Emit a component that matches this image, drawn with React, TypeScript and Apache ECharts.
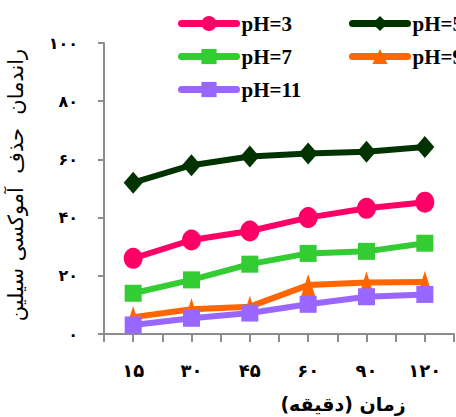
import React, { useEffect, useRef } from "react";
import * as echarts from "echarts";

const categories = ["۱۵", "۳۰", "۴۵", "۶۰", "۹۰", "۱۲۰"];
const yTickLabels: Record<number, string> = { 0: "۰", 20: "۲۰", 40: "۴۰", 60: "۶۰", 80: "۸۰", 100: "۱۰۰" };
const pH3 = [26, 32.3, 35.4, 40, 43.2, 45.3];
const pH5 = [52, 58, 61, 62, 62.6, 64.3];
const pH7 = [14, 18.6, 24, 27.7, 28.4, 31.2];
const pH9 = [5.8, 8.5, 9.4, 16.8, 17.7, 17.9];
const pH11 = [3.1, 5.4, 7.2, 10.2, 12.8, 13.6];

const seriesDefs = [
  { name: "pH=3", data: pH3, color: "#FF0066", symbol: "circle", size: [19, 21] },
  { name: "pH=5", data: pH5, color: "#013301", symbol: "diamond", size: [19, 22] },
  { name: "pH=7", data: pH7, color: "#33CC33", symbol: "rect", size: [17, 17] },
  { name: "pH=9", data: pH9, color: "#FF6600", symbol: "triangle", size: [14, 22] },
  { name: "pH=11", data: pH11, color: "#9966FF", symbol: "rect", size: [17, 17] },
];

const legendPos: Record<string, { left: number; top: number }> = {
  "pH=3": { left: 178, top: 13 },
  "pH=7": { left: 178, top: 46 },
  "pH=11": { left: 178, top: 79 },
  "pH=5": { left: 349, top: 13 },
  "pH=9": { left: 349, top: 46 },
};

export default function App() {
  const ref = useRef<HTMLDivElement>(null);
  useEffect(() => {
    if (!ref.current) return;
    const chart = echarts.init(ref.current, null, { renderer: "svg" });
    const axisColor = "#8c8c8c";
    const legendFont = { fontFamily: "Liberation Serif", fontWeight: "bold", fontSize: 21, color: "#000" };
    chart.setOption({
      animation: false,
      backgroundColor: "#fff",
      grid: { left: 104, right: 2, top: 43, bottom: 83, containLabel: false },
      legend: seriesDefs.map((s) => ({
        data: [s.name],
        left: legendPos[s.name].left,
        top: legendPos[s.name].top,
        itemWidth: 55,
        itemHeight: 19,
        itemGap: 4,
        padding: 0,
        selectedMode: false,
        textStyle: legendFont,
        lineStyle: { width: 7, cap: "round" },
      })),
      xAxis: [
        {
          type: "category",
          data: categories,
          boundaryGap: true,
          axisLine: { lineStyle: { color: axisColor, width: 2 } },
          axisTick: { show: true, length: 8, lineStyle: { color: axisColor, width: 2 } },
          axisLabel: {
            margin: 27,
            color: "#000",
            fontFamily: "DejaVu Sans",
            fontWeight: "bold",
            fontSize: 18,
          },
        },
        {
          type: "category",
          data: categories,
          boundaryGap: true,
          position: "bottom",
          axisLine: { show: false },
          axisTick: { show: true, alignWithLabel: true, length: 8, lineStyle: { color: axisColor, width: 2 } },
          axisLabel: { show: false },
        },
      ],
      yAxis: {
        type: "value",
        min: 0,
        max: 100,
        interval: 20,
        splitLine: { show: false },
        axisLine: { show: true, lineStyle: { color: axisColor, width: 2 } },
        axisTick: { show: true, length: 6, lineStyle: { color: axisColor, width: 2 } },
        axisLabel: {
          margin: 26,
          color: "#000",
          fontFamily: "DejaVu Sans",
          fontWeight: "bold",
          fontSize: 16,
          formatter: (v: number) => yTickLabels[v] ?? String(v),
        },
      },
      graphic: [
        {
          type: "text",
          x: 343,
          y: 404,
          style: {
            text: "زمان (دقیقه)",
            fill: "#000",
            font: "bold 19px 'DejaVu Sans'",
            align: "center",
            verticalAlign: "middle",
          },
        },
        {
          type: "text",
          x: 16,
          y: 185,
          rotation: Math.PI / 2,
          style: {
            text: "راندمان  حذف  آموکسی سیلین",
            fill: "#000",
            font: "21px 'DejaVu Sans'",
            align: "center",
            verticalAlign: "middle",
          },
        },
      ],
      series: seriesDefs.map((s) => ({
        name: s.name,
        type: "line",
        data: s.data,
        symbol: s.symbol,
        symbolSize: s.size,
        showAllSymbol: true,
        lineStyle: { color: s.color, width: 6 },
        itemStyle: { color: s.color, borderWidth: 0 },
        emphasis: { disabled: true },
      })),
    });
    return () => chart.dispose();
  }, []);
  return <div ref={ref} style={{ width: 456, height: 417, position: "absolute", left: 0, top: 0 }} />;
}
